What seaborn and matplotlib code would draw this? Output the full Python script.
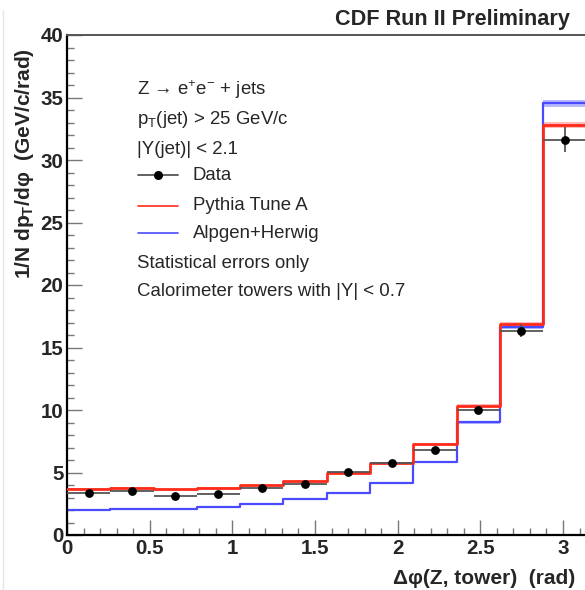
import numpy as np
import pandas as pd
import matplotlib
matplotlib.use("Agg")
import matplotlib.pyplot as plt
import seaborn as sns
from matplotlib.lines import Line2D
from matplotlib.ticker import MultipleLocator

# ---------------- data ----------------
n_bins = 12
phi_lo, phi_hi = 0.0, np.pi
data_vals = [3.33, 3.50, 3.14, 3.31, 3.73, 4.05, 5.01, 5.74, 6.82, 10.03, 16.36, 31.62]
data_errs = [0.10, 0.10, 0.10, 0.10, 0.11, 0.12, 0.14, 0.15, 0.18, 0.28, 0.55, 1.00]
pythia_vals = [3.68, 3.79, 3.65, 3.76, 3.97, 4.30, 4.99, 5.73, 7.30, 10.35, 16.87, 32.80]
pythia_errs = [0.05, 0.05, 0.05, 0.05, 0.05, 0.06, 0.07, 0.08, 0.09, 0.12, 0.15, 0.25]
alpgen_vals = [2.00, 2.05, 2.12, 2.21, 2.50, 2.88, 3.33, 4.20, 5.82, 9.03, 16.65, 34.53]
alpgen_errs = [0.04, 0.04, 0.04, 0.04, 0.05, 0.05, 0.06, 0.07, 0.09, 0.12, 0.18, 0.30]
x_ticks = [0, 0.5, 1, 1.5, 2, 2.5, 3]
x_tick_labels = ["0", "0.5", "1", "1.5", "2", "2.5", "3"]
y_ticks = [0, 5, 10, 15, 20, 25, 30, 35, 40]
y_tick_labels = ["0", "5", "10", "15", "20", "25", "30", "35", "40"]
legend_lines = ["Z \u2192 e$^\\mathregular{+}$e$^\\mathregular{-}$ + jets",
                "p$_\\mathregular{T}$(jet) > 25 GeV/c",
                "|Y(jet)| < 2.1"]
series_labels = ["Data", "Pythia Tune A", "Alpgen+Herwig"]
note_lines = ["Statistical errors only", "Calorimeter towers with |Y| < 0.7"]

# ---------------- style ----------------
sns.set_style("white")
FONT = ["Liberation Sans", "DejaVu Sans"]
plt.rcParams["font.family"] = FONT
plt.rcParams["mathtext.fontset"] = "custom"
plt.rcParams["mathtext.rm"] = "Liberation Sans"
plt.rcParams["mathtext.it"] = "Liberation Sans:italic"
plt.rcParams["mathtext.bf"] = "Liberation Sans:bold"

RED = "#ff2a1a"
BLUE = "#4a4aff"
GREY = "#555555"

edges = np.linspace(phi_lo, phi_hi, n_bins + 1)
centers = 0.5 * (edges[:-1] + edges[1:])
halfw = 0.5 * (edges[1] - edges[0])

df = pd.DataFrame({
    "phi": centers,
    "data": data_vals, "data_err": data_errs,
    "pythia": pythia_vals, "pythia_err": pythia_errs,
    "alpgen": alpgen_vals, "alpgen_err": alpgen_errs,
})

def step_frame(col):
    v = df[col].to_numpy()
    return pd.DataFrame({"edge": edges, "val": np.append(v, v[-1])})

W, H = 585, 590
fig = plt.figure(figsize=(W / 100, H / 100), dpi=100)
ax = fig.add_axes([67 / W, 55 / H, 519.4 / W, 500 / H])

# MC error bands
for col, ecol, c in [("alpgen", "alpgen_err", "#a8a8ff"), ("pythia", "pythia_err", "#ffaaaa")]:
    lo = (df[col] - df[ecol]).to_numpy()
    hi = (df[col] + df[ecol]).to_numpy()
    ax.fill_between(edges, np.append(lo, lo[-1]), np.append(hi, hi[-1]),
                    step="post", color=c, alpha=0.8, lw=0, zorder=1)

# MC histograms (seaborn step lines)
sns.lineplot(data=step_frame("alpgen"), x="edge", y="val", drawstyle="steps-post",
             color=BLUE, linewidth=1.6, estimator=None, ax=ax, zorder=2)
sns.lineplot(data=step_frame("pythia"), x="edge", y="val", drawstyle="steps-post",
             color=RED, linewidth=2.0, estimator=None, ax=ax, zorder=3)

# Data
ax.errorbar(df["phi"], df["data"], xerr=halfw, yerr=df["data_err"], fmt="none",
            ecolor=GREY, elinewidth=1.3, capsize=0, zorder=4)
sns.scatterplot(data=df, x="phi", y="data", color="black", s=40, edgecolor="black",
                linewidth=0, ax=ax, zorder=5)

ax.set_xlim(phi_lo, phi_hi)
ax.set_ylim(0, 40)
ax.set_xlabel("")
ax.set_ylabel("")

ax.set_xticks(x_ticks, labels=x_tick_labels, fontweight="bold", fontsize=14.8)
ax.set_yticks(y_ticks, labels=y_tick_labels, fontweight="bold", fontsize=14.8)
ax.xaxis.set_minor_locator(MultipleLocator(0.1))
ax.yaxis.set_minor_locator(MultipleLocator(1))
ax.tick_params(which="major", direction="in", length=10.8, width=1.0, color="#777777",
               bottom=True, left=True, top=False, right=False)
ax.tick_params(which="minor", direction="in", length=5.3, width=1.0, color="#777777",
               bottom=True, left=True, top=False, right=False)
ax.tick_params(axis="x", which="major", pad=3.0)
ax.tick_params(axis="y", which="major", pad=2.5)

for s in ["left", "bottom"]:
    ax.spines[s].set_color("black")
    ax.spines[s].set_linewidth(1.6)
ax.spines["top"].set_color("#555555")
ax.spines["top"].set_linewidth(1.4)
ax.spines["right"].set_visible(False)

# Axis titles
ax.text(-0.081, 0.974, "1/N dp$_\\mathregular{T}$/d\u03c6  (GeV/c/rad)", transform=ax.transAxes,
        rotation=90, ha="center", va="top", fontsize=15, fontweight="bold")
ax.text(0.978, -0.086, "\u0394\u03c6(Z, tower)  (rad)", transform=ax.transAxes,
        ha="right", va="center", fontsize=15, fontweight="bold")
fig.text(570 / W, 1 - 20 / H, "CDF Run II Preliminary", ha="right", va="center",
         fontsize=15.6, fontweight="bold")

# Legend block
def fx(px):
    return (px - 67) / 519.4

def fy(py):
    return (535 - py) / 500

ts = 13.4
for txt, py in zip(legend_lines, [90, 120, 150]):
    ax.text(fx(137), fy(py), txt, transform=ax.transAxes, ha="left", va="center", fontsize=ts)

ax.add_line(Line2D([fx(138), fx(178)], [fy(175), fy(175)], transform=ax.transAxes,
                   color=GREY, lw=1.3))
ax.add_line(Line2D([fx(158)], [fy(175)], transform=ax.transAxes, marker="o",
                   color="black", ms=5.5, lw=0))
ax.add_line(Line2D([fx(138), fx(178)], [fy(206), fy(206)], transform=ax.transAxes,
                   color=RED, lw=1.2))
ax.add_line(Line2D([fx(138), fx(178)], [fy(233), fy(233)], transform=ax.transAxes,
                   color=BLUE, lw=1.2))
for txt, py in zip(series_labels, [175, 206, 233]):
    ax.text(fx(193), fy(py), txt, transform=ax.transAxes, ha="left", va="center", fontsize=ts)
for txt, py in zip(note_lines, [263, 292]):
    ax.text(fx(137), fy(py), txt, transform=ax.transAxes, ha="left", va="center", fontsize=ts)

# faint screenshot border on the left
fig.add_artist(Line2D([3 / W, 3 / W], [0, 1 - 10 / H], transform=fig.transFigure,
                      color="#e6e6e6", lw=1))

fig.savefig("out.png", dpi=100)
